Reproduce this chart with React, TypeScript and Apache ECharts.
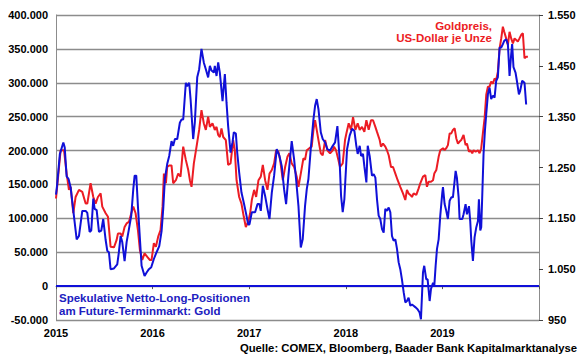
import React, { useEffect, useRef } from "react";
import * as echarts from "echarts";

// Speculative net long positions (thousand contracts), [year fraction, value]
const netLongPositions: [number, number][] = [
  [2015.0, 135], [2015.01, 147], [2015.04, 195], [2015.076, 212], [2015.09, 205], [2015.11, 162],
  [2015.13, 158], [2015.152, 145], [2015.186, 103], [2015.214, 69], [2015.238, 74], [2015.272, 111],
  [2015.307, 111], [2015.324, 108], [2015.348, 80], [2015.365, 82], [2015.386, 129], [2015.4, 114],
  [2015.421, 112], [2015.445, 80], [2015.469, 82], [2015.489, 99], [2015.514, 68], [2015.531, 52],
  [2015.548, 50], [2015.565, 25], [2015.6, 26], [2015.634, 32], [2015.651, 50], [2015.669, 74],
  [2015.686, 65], [2015.71, 37], [2015.731, 65], [2015.755, 84], [2015.779, 104], [2015.8, 143],
  [2015.814, 163], [2015.831, 163], [2015.848, 118], [2015.869, 69], [2015.886, 30], [2015.917, 15],
  [2015.938, 20], [2015.962, 25], [2015.986, 28], [2016.013, 40], [2016.041, 50], [2016.069, 59],
  [2016.093, 81], [2016.11, 114], [2016.127, 158], [2016.151, 180], [2016.172, 192], [2016.196, 214],
  [2016.213, 207], [2016.231, 217], [2016.255, 217], [2016.282, 241], [2016.3, 246], [2016.317, 246],
  [2016.344, 300], [2016.358, 295], [2016.379, 300], [2016.393, 276], [2016.42, 217], [2016.437, 241],
  [2016.462, 308], [2016.482, 320], [2016.506, 350], [2016.53, 330], [2016.551, 320], [2016.575, 308],
  [2016.593, 325], [2016.61, 318], [2016.634, 315], [2016.644, 325], [2016.662, 310], [2016.679, 330],
  [2016.696, 315], [2016.724, 273], [2016.748, 313], [2016.765, 271], [2016.782, 236], [2016.807, 197],
  [2016.827, 212], [2016.841, 227], [2016.862, 225], [2016.876, 197], [2016.896, 168], [2016.92, 138],
  [2016.944, 123], [2016.972, 104], [2016.989, 91], [2017.003, 91], [2017.027, 109], [2017.061, 109],
  [2017.086, 121], [2017.106, 121], [2017.12, 111], [2017.141, 148], [2017.165, 133], [2017.189, 114],
  [2017.21, 99], [2017.234, 138], [2017.258, 163], [2017.285, 202], [2017.313, 192], [2017.337, 177],
  [2017.361, 143], [2017.382, 121], [2017.406, 163], [2017.44, 214], [2017.465, 187], [2017.485, 158],
  [2017.51, 118], [2017.534, 57], [2017.554, 69], [2017.578, 118], [2017.596, 143], [2017.613, 158],
  [2017.637, 202], [2017.665, 246], [2017.682, 266], [2017.699, 276], [2017.717, 261], [2017.741, 227],
  [2017.761, 217], [2017.786, 212], [2017.809, 202], [2017.837, 200], [2017.865, 207], [2017.889, 212],
  [2017.913, 236], [2017.934, 192], [2017.951, 133], [2017.968, 109], [2017.985, 128], [2017.996, 158],
  [2018.013, 202], [2018.04, 222], [2018.065, 232], [2018.089, 229], [2018.109, 207], [2018.123, 195],
  [2018.144, 207], [2018.158, 192], [2018.178, 195], [2018.192, 177], [2018.213, 153], [2018.227, 207],
  [2018.247, 192], [2018.271, 163], [2018.289, 165], [2018.306, 160], [2018.323, 128], [2018.34, 104],
  [2018.357, 99], [2018.375, 84], [2018.392, 79], [2018.409, 114], [2018.426, 111], [2018.444, 116],
  [2018.461, 109], [2018.478, 74], [2018.495, 67], [2018.513, 69], [2018.53, 55], [2018.547, 35],
  [2018.564, 25], [2018.581, 10], [2018.599, -9], [2018.616, -24], [2018.633, -22], [2018.65, -17],
  [2018.668, -29], [2018.685, -27], [2018.702, -29], [2018.719, -31], [2018.743, -34], [2018.764, -39],
  [2018.778, -49], [2018.799, 20], [2018.812, 30], [2018.833, 10], [2018.847, 10], [2018.868, -22],
  [2018.882, -4], [2018.903, 5], [2018.916, 0], [2018.93, 30], [2018.944, 55], [2018.961, 69],
  [2018.978, 104], [2018.999, 138], [2019.006, 146], [2019.023, 121], [2019.04, 111], [2019.057, 99],
  [2019.075, 126], [2019.092, 131], [2019.109, 131], [2019.137, 170], [2019.15, 160], [2019.168, 131],
  [2019.178, 99], [2019.206, 99], [2019.219, 106], [2019.24, 121], [2019.254, 106], [2019.275, 118],
  [2019.288, 96], [2019.299, 67], [2019.316, 37], [2019.333, 72], [2019.351, 87], [2019.368, 96],
  [2019.378, 128], [2019.392, 82], [2019.402, 87], [2019.412, 131], [2019.426, 195], [2019.44, 229],
  [2019.454, 254], [2019.471, 283], [2019.488, 293], [2019.505, 276], [2019.523, 281], [2019.54, 278],
  [2019.557, 303], [2019.574, 308], [2019.592, 352], [2019.609, 352], [2019.626, 357], [2019.64, 362],
  [2019.66, 364], [2019.678, 357], [2019.695, 310], [2019.712, 342], [2019.722, 357], [2019.736, 323],
  [2019.757, 315], [2019.771, 303], [2019.792, 283], [2019.805, 288], [2019.826, 303], [2019.85, 300],
  [2019.867, 268],
];

// Gold price, US-Dollar per ounce, [year fraction, value]
const goldPrice: [number, number][] = [
  [2015.0, 1189], [2015.021, 1230], [2015.048, 1284], [2015.083, 1284], [2015.11, 1238], [2015.134, 1206],
  [2015.152, 1212], [2015.179, 1160], [2015.203, 1192], [2015.238, 1206], [2015.272, 1202], [2015.307, 1179],
  [2015.324, 1179], [2015.358, 1219], [2015.386, 1192], [2015.41, 1179], [2015.434, 1192], [2015.462, 1199],
  [2015.479, 1173], [2015.514, 1160], [2015.538, 1153], [2015.565, 1094], [2015.6, 1093], [2015.627, 1107],
  [2015.641, 1120], [2015.669, 1120], [2015.686, 1114], [2015.71, 1133], [2015.731, 1140], [2015.755, 1143],
  [2015.779, 1160], [2015.8, 1173], [2015.824, 1160], [2015.848, 1127], [2015.869, 1087], [2015.893, 1068],
  [2015.917, 1081], [2015.945, 1074], [2015.972, 1068], [2015.989, 1068], [2016.013, 1101], [2016.034, 1094],
  [2016.058, 1114], [2016.082, 1127], [2016.103, 1173], [2016.117, 1238], [2016.138, 1219], [2016.151, 1251],
  [2016.172, 1254], [2016.196, 1254], [2016.213, 1219], [2016.241, 1225], [2016.265, 1238], [2016.289, 1232],
  [2016.317, 1291], [2016.344, 1265], [2016.369, 1245], [2016.386, 1225], [2016.403, 1212], [2016.427, 1258],
  [2016.455, 1291], [2016.482, 1324], [2016.506, 1363], [2016.53, 1337], [2016.551, 1324], [2016.575, 1350],
  [2016.593, 1330], [2016.62, 1337], [2016.644, 1324], [2016.662, 1330], [2016.679, 1314], [2016.696, 1310],
  [2016.713, 1327], [2016.731, 1310], [2016.758, 1304], [2016.782, 1255], [2016.807, 1258], [2016.834, 1304],
  [2016.851, 1284], [2016.869, 1225], [2016.896, 1192], [2016.92, 1179], [2016.944, 1153], [2016.965, 1133],
  [2016.989, 1143], [2017.01, 1160], [2017.027, 1186], [2017.051, 1206], [2017.072, 1192], [2017.096, 1225],
  [2017.12, 1232], [2017.141, 1255], [2017.165, 1225], [2017.189, 1206], [2017.21, 1238], [2017.234, 1245],
  [2017.258, 1258], [2017.279, 1284], [2017.303, 1281], [2017.32, 1265], [2017.348, 1225], [2017.372, 1251],
  [2017.396, 1271], [2017.416, 1278], [2017.44, 1258], [2017.465, 1251], [2017.492, 1232], [2017.51, 1212],
  [2017.534, 1238], [2017.561, 1268], [2017.578, 1265], [2017.596, 1284], [2017.623, 1288], [2017.647, 1291],
  [2017.665, 1324], [2017.682, 1343], [2017.699, 1324], [2017.717, 1304], [2017.741, 1278], [2017.761, 1274],
  [2017.786, 1304], [2017.809, 1284], [2017.837, 1278], [2017.865, 1284], [2017.878, 1291], [2017.899, 1284],
  [2017.923, 1265], [2017.94, 1251], [2017.968, 1258], [2017.992, 1304], [2018.006, 1317], [2018.03, 1337],
  [2018.054, 1324], [2018.075, 1349], [2018.099, 1324], [2018.123, 1337], [2018.144, 1324], [2018.168, 1330],
  [2018.192, 1320], [2018.213, 1343], [2018.237, 1324], [2018.261, 1343], [2018.282, 1343], [2018.306, 1330],
  [2018.323, 1320], [2018.351, 1304], [2018.364, 1291], [2018.385, 1297], [2018.409, 1291], [2018.426, 1284],
  [2018.444, 1274], [2018.468, 1251], [2018.489, 1251], [2018.513, 1238], [2018.537, 1225], [2018.564, 1212],
  [2018.592, 1199], [2018.616, 1186], [2018.633, 1206], [2018.65, 1199], [2018.668, 1196], [2018.685, 1192],
  [2018.702, 1199], [2018.73, 1196], [2018.754, 1209], [2018.771, 1219], [2018.799, 1232], [2018.823, 1235],
  [2018.84, 1212], [2018.857, 1222], [2018.882, 1222], [2018.903, 1225], [2018.916, 1238], [2018.937, 1245],
  [2018.961, 1271], [2018.978, 1284], [2019.006, 1288], [2019.023, 1284], [2019.04, 1288], [2019.057, 1294],
  [2019.075, 1317], [2019.092, 1317], [2019.109, 1324], [2019.127, 1327], [2019.144, 1307], [2019.161, 1297],
  [2019.178, 1301], [2019.195, 1304], [2019.219, 1314], [2019.24, 1294], [2019.254, 1297], [2019.275, 1281],
  [2019.288, 1284], [2019.309, 1278], [2019.323, 1284], [2019.344, 1281], [2019.368, 1284], [2019.385, 1278],
  [2019.402, 1288], [2019.419, 1317], [2019.437, 1347], [2019.454, 1393], [2019.471, 1409], [2019.488, 1409],
  [2019.505, 1419], [2019.523, 1415], [2019.54, 1425], [2019.557, 1422], [2019.574, 1438], [2019.592, 1484],
  [2019.609, 1504], [2019.626, 1527], [2019.64, 1517], [2019.66, 1504], [2019.678, 1491], [2019.695, 1517],
  [2019.712, 1504], [2019.73, 1494], [2019.747, 1504], [2019.764, 1501], [2019.781, 1498], [2019.798, 1504],
  [2019.816, 1511], [2019.833, 1514], [2019.85, 1465], [2019.867, 1468], [2019.885, 1468],
];

const yearRange = [2015, 2020];
const leftAxisRange = [-50, 400, 50]; // thousand contracts
const rightAxisRange = [950, 1550, 100]; // USD

const BLUE = "#1010d8";
const TEXT_BLUE = "#2020c0";
const RED = "#ec1c24";
const GRID = "#8c8c8c";
const FONT = "'Liberation Sans', Arial, sans-serif";

const fmtThousands = (v: number) => {
  if (v === 0) return "0";
  return `${v}.000`;
};
const fmtGold = (v: number) => {
  if (Math.abs(v) < 1000) return String(v);
  const th = Math.floor(v / 1000);
  const rest = String(v % 1000).padStart(3, "0");
  return `${th}.${rest}`;
};

export default function App() {
  const ref = useRef<HTMLDivElement>(null);
  useEffect(() => {
    if (!ref.current) return;
    const chart = echarts.init(ref.current, undefined, { renderer: "svg" });
    const labelStyle = { color: "#000", fontWeight: "bold" as const, fontSize: 11, fontFamily: FONT };
    chart.setOption({
      animation: false,
      backgroundColor: "#fff",
      grid: { left: 56, right: 41, top: 15, bottom: 39 },
      xAxis: {
        type: "value",
        min: yearRange[0],
        max: yearRange[1],
        interval: 1,
        axisLine: { show: true, lineStyle: { color: GRID, width: 1 } },
        axisTick: { show: true, length: 3, lineStyle: { color: "#555" } },
        splitLine: { show: false },
        axisLabel: {
          ...labelStyle,
          margin: 7,
          formatter: (v: number) => (v < yearRange[1] ? String(v) : ""),
        },
      },
      yAxis: [
        {
          type: "value",
          position: "left",
          min: leftAxisRange[0],
          max: leftAxisRange[1],
          interval: leftAxisRange[2],
          axisLine: { show: true, lineStyle: { color: GRID, width: 1 } },
          axisTick: { show: false },
          splitLine: { show: true, lineStyle: { color: GRID, width: 1.3 } },
          axisLabel: { ...labelStyle, margin: 8, formatter: fmtThousands },
        },
        {
          type: "value",
          position: "right",
          min: rightAxisRange[0],
          max: rightAxisRange[1],
          interval: rightAxisRange[2],
          axisLine: { show: true, lineStyle: { color: GRID, width: 1 } },
          axisTick: { show: true, length: 4, lineStyle: { color: "#444" } },
          splitLine: { show: false },
          axisLabel: { ...labelStyle, margin: 9, formatter: fmtGold },
        },
      ],
      series: [
        {
          name: "Goldpreis",
          type: "line",
          yAxisIndex: 1,
          data: goldPrice,
          showSymbol: false,
          symbol: "none",
          lineStyle: { color: RED, width: 2 },
          z: 2,
        },
        {
          name: "Netto-Long-Positionen",
          type: "line",
          yAxisIndex: 0,
          data: netLongPositions,
          showSymbol: false,
          symbol: "none",
          lineStyle: { color: BLUE, width: 2 },
          z: 3,
          markLine: {
            silent: true,
            symbol: ["none", "none"],
            label: { show: false },
            lineStyle: { color: BLUE, width: 2, type: "solid" },
            data: [{ yAxis: 0 }],
          },
        },
      ],
      graphic: [
        {
          type: "text",
          x: 492,
          y: 20,
          style: {
            text: "Goldpreis,\nUS-Dollar je Unze",
            fill: RED,
            font: `bold 11.5px ${FONT}`,
            align: "right",
            verticalAlign: "top",
            lineHeight: 12,
          },
        },
        {
          type: "text",
          x: 59,
          y: 291.5,
          style: {
            text: "Spekulative Netto-Long-Positionen\nam Future-Terminmarkt: Gold",
            fill: TEXT_BLUE,
            font: `bold 11.5px ${FONT}`,
            align: "left",
            verticalAlign: "top",
            lineHeight: 13,
          },
        },
        {
          type: "text",
          x: 577,
          y: 341.5,
          style: {
            text: "Quelle: COMEX, Bloomberg, Baader Bank Kapitalmarktanalyse",
            fill: "#000",
            font: `bold 11.3px ${FONT}`,
            align: "right",
            verticalAlign: "top",
            lineHeight: 13,
          },
        },
      ],
    });
    return () => chart.dispose();
  }, []);
  return (
    <div
      ref={ref}
      style={{ position: "fixed", left: 0, top: 0, width: 580, height: 359, background: "#fff" }}
    />
  );
}
